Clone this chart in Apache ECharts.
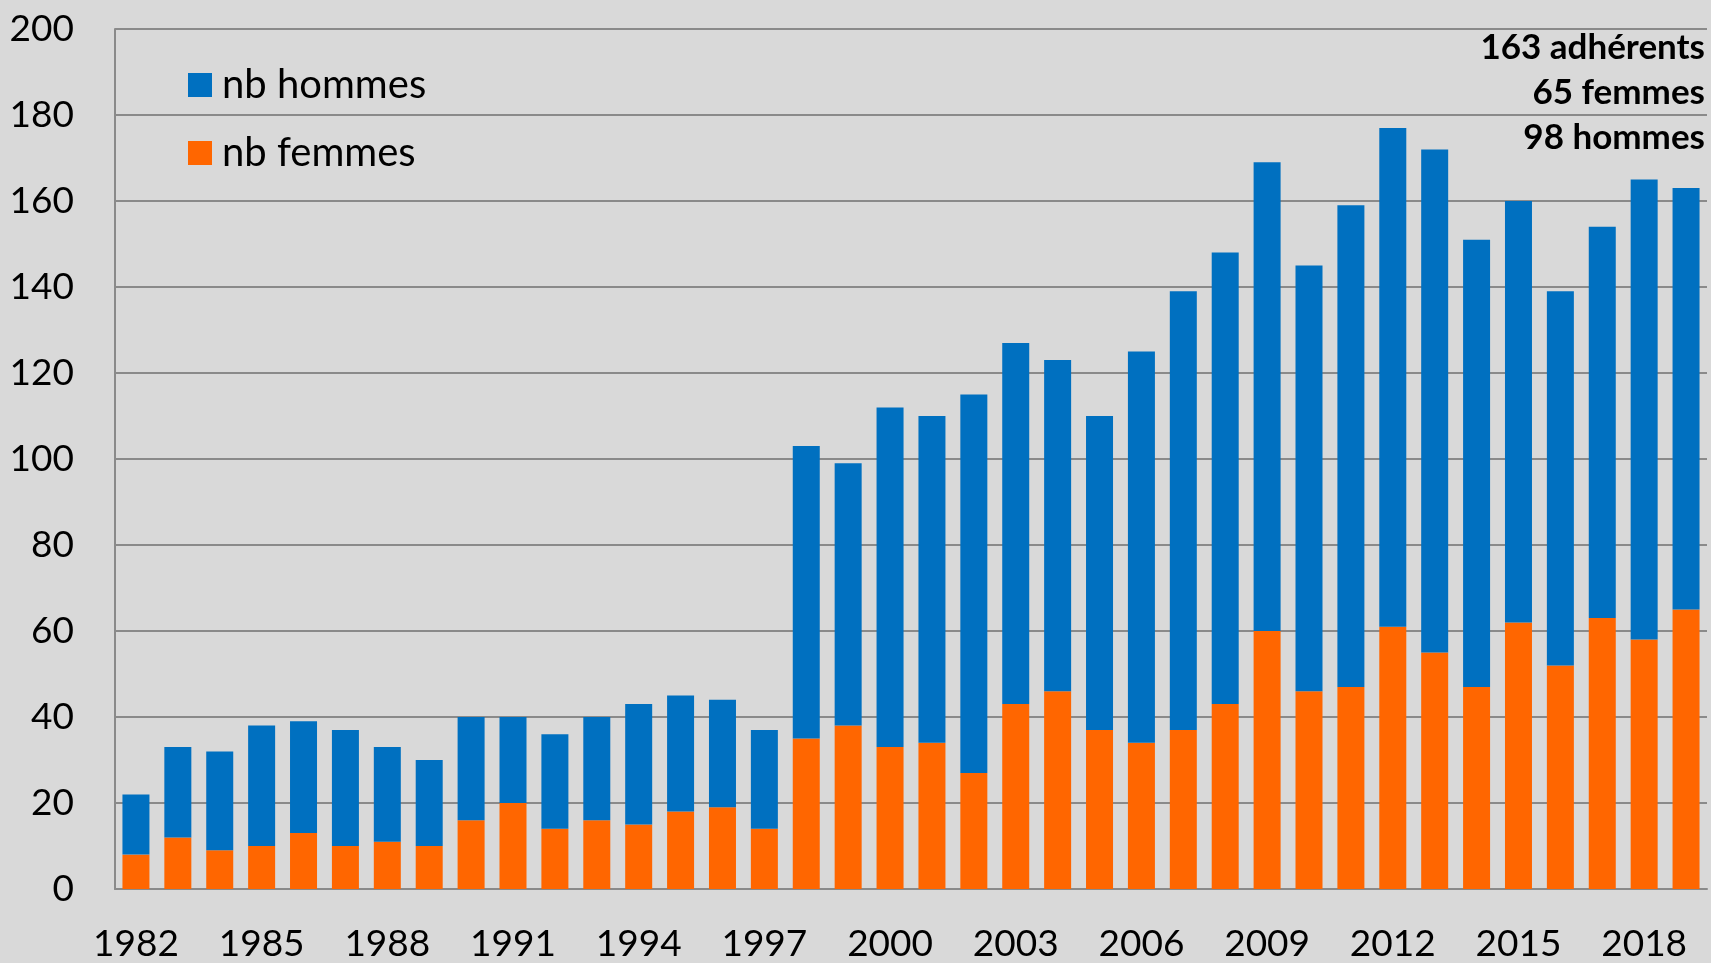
<!DOCTYPE html>
<html>
<head>
<meta charset="utf-8">
<script src="https://cdn.jsdelivr.net/npm/echarts@6/dist/echarts.min.js"></script>
<style>
html,body{margin:0;padding:0;background:#d9d9d9;}
#chart{width:1711px;height:963px;}
</style>
</head>
<body>
<div id="chart"></div>
<script>
const years = ['1982','1983','1984','1985','1986','1987','1988','1989','1990','1991','1992','1993','1994','1995','1996','1997','1998','1999','2000','2001','2002','2003','2004','2005','2006','2007','2008','2009','2010','2011','2012','2013','2014','2015','2016','2017','2018','2019'];
const femmes = [8,12,9,10,13,10,11,10,16,20,14,16,15,18,19,14,35,38,33,34,27,43,46,37,34,37,43,60,46,47,61,55,47,62,52,63,58,65];
const hommes = [14,21,23,28,26,27,22,20,24,20,22,24,28,27,25,23,68,61,79,76,88,84,77,73,91,102,105,109,99,112,116,117,104,98,87,91,107,98];
const yTicks = {min:0, max:200, interval:20};
const annotation = ['163 adhérents','65 femmes','98 hommes'];

const FONT = 'Lato, "Noto Sans", sans-serif';
const chart = echarts.init(document.getElementById('chart'), null, {renderer:'canvas'});
chart.setOption({
  backgroundColor:'#d9d9d9',
  animation:false,
  textStyle:{fontFamily:FONT},
  grid:{left:115, right:4, top:29, bottom:74, containLabel:false},
  legend:{
    data:['nb hommes','nb femmes'],
    orient:'vertical',
    left:188, top:65, padding:0,
    itemWidth:24, itemHeight:24, itemGap:28,
    icon:'rect',
    textStyle:{fontFamily:FONT, fontSize:40, color:'#000', padding:[0,0,0,5]}
  },
  graphic: annotation.map((t, i) => ({
    type:'text',
    right:6, top:30 + i*45,
    style:{
      text:t,
      font:'bold 35px ' + FONT,
      fill:'#000'
    }
  })),
  xAxis:{
    type:'category',
    data:years,
    axisLine:{show:true, lineStyle:{color:'#8a8a8a', width:2}},
    axisTick:{show:false},
    axisLabel:{interval:2, fontFamily:FONT, fontSize:37, color:'#000', margin:37}
  },
  yAxis:{
    type:'value',
    min:yTicks.min, max:yTicks.max, interval:yTicks.interval,
    axisLine:{show:true, lineStyle:{color:'#8a8a8a', width:2}},
    axisTick:{show:false},
    splitLine:{show:true, lineStyle:{color:'#8a8a8a', width:2}},
    axisLabel:{fontFamily:FONT, fontSize:37, color:'#000', margin:41}
  },
  series:[
    {name:'nb femmes', type:'bar', stack:'t', data:femmes, barWidth:27,
     itemStyle:{color:'#ff6600'}},
    {name:'nb hommes', type:'bar', stack:'t', data:hommes, barWidth:27,
     itemStyle:{color:'#0070c0'}}
  ]
});
</script>
</body>
</html>
